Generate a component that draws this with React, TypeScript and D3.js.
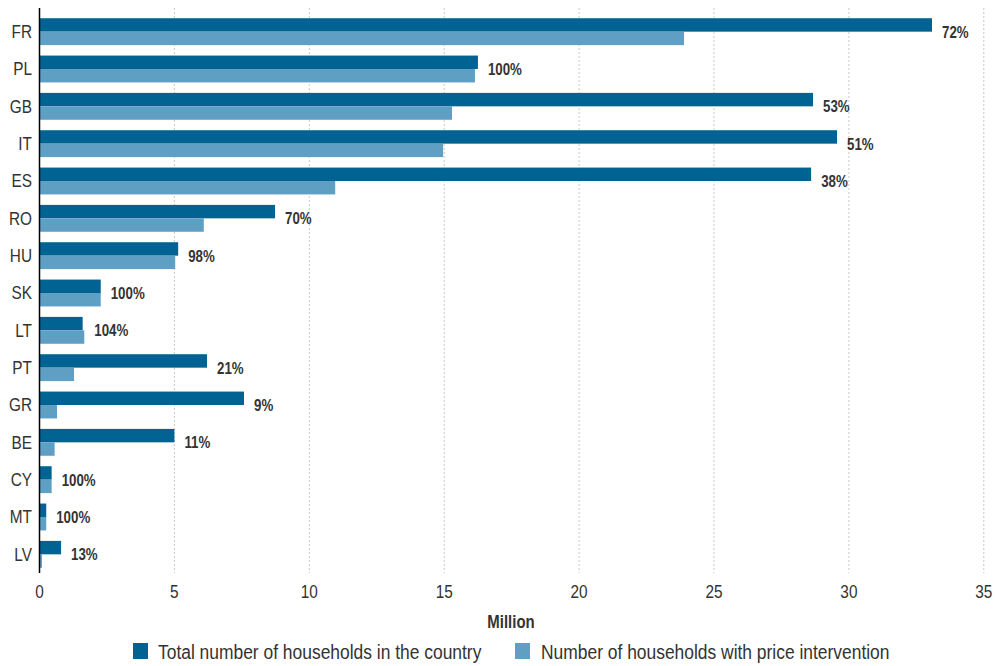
import React from "react";
import * as d3 from "d3";

const countries = ["FR", "PL", "GB", "IT", "ES", "RO", "HU", "SK", "LT", "PT", "GR", "BE", "CY", "MT", "LV"];
const totalHouseholds = [33.08, 16.25, 28.67, 29.56, 28.6, 8.73, 5.14, 2.27, 1.6, 6.21, 7.58, 5.0, 0.45, 0.25, 0.8];
const interventionHouseholds = [23.89, 16.14, 15.29, 14.96, 10.96, 6.09, 5.03, 2.27, 1.66, 1.28, 0.65, 0.56, 0.45, 0.25, 0.09];
const shareLabels = ["72%", "100%", "53%", "51%", "38%", "70%", "98%", "100%", "104%", "21%", "9%", "11%", "100%", "100%", "13%"];
const xTicks = [0, 5, 10, 15, 20, 25, 30, 35];
const seriesNames = ["Total number of households in the country", "Number of households with price intervention"];

const W = 995;
const H = 666;
const FONT = "'Liberation Sans', Arial, sans-serif";
const DARK = "#006391";
const LIGHT = "#5f9fc4";
const SX = 0.83;

function NText(props: {
  x: number;
  y: number;
  size: number;
  bold?: boolean;
  anchor?: string;
  children: React.ReactNode;
}) {
  return (
    <text
      transform={`translate(${props.x},${props.y}) scale(${SX},1)`}
      dy="0.35em"
      fontSize={props.size}
      fontWeight={props.bold ? "bold" : "normal"}
      fill="#333"
      textAnchor={props.anchor || "start"}
    >
      {props.children}
    </text>
  );
}

export default function App() {
  const x = d3.scaleLinear().domain([0, 35]).range([39.5, 983.8]);
  const y = d3.scaleBand<string>().domain(countries).range([13, 573]).paddingInner(0.28).paddingOuter(0.14);
  const bh = y.bandwidth() / 2;

  return (
    <svg width={W} height={H} style={{ position: "absolute", left: 0, top: 0 }} fontFamily={FONT}>
      {xTicks.slice(1).map((t) => (
        <line key={"g" + t} x1={x(t)} x2={x(t)} y1={8} y2={573} stroke="#c8c8c8" strokeWidth={1} strokeDasharray="2,2" />
      ))}
      {countries.map((c, i) => {
        const y0 = y(c)!;
        const maxV = Math.max(totalHouseholds[i], interventionHouseholds[i]);
        return (
          <g key={c}>
            <rect x={x(0)} y={y0} width={x(totalHouseholds[i]) - x(0)} height={bh} fill={DARK} />
            <rect x={x(0)} y={y0 + bh} width={x(interventionHouseholds[i]) - x(0)} height={bh} fill={LIGHT} />
            <NText x={x(maxV) + 10} y={y0 + bh + 0.5} size={16} bold>
              {shareLabels[i]}
            </NText>
            <NText x={32} y={y0 + bh} size={18.5} anchor="end">
              {c}
            </NText>
          </g>
        );
      })}
      <line x1={x(0)} x2={x(0)} y1={8} y2={573} stroke="#000" strokeWidth={1.5} />
      {xTicks.map((t) => (
        <NText key={"t" + t} x={x(t)} y={592} size={18.5} anchor="middle">
          {t}
        </NText>
      ))}
      <NText x={511} y={622} size={18} bold anchor="middle">
        Million
      </NText>
      <rect x={133} y={643} width={15} height={16} fill={DARK} />
      <NText x={158} y={652} size={21}>
        {seriesNames[0]}
      </NText>
      <rect x={515} y={643} width={15} height={16} fill={LIGHT} />
      <NText x={541} y={652} size={21}>
        {seriesNames[1]}
      </NText>
    </svg>
  );
}
